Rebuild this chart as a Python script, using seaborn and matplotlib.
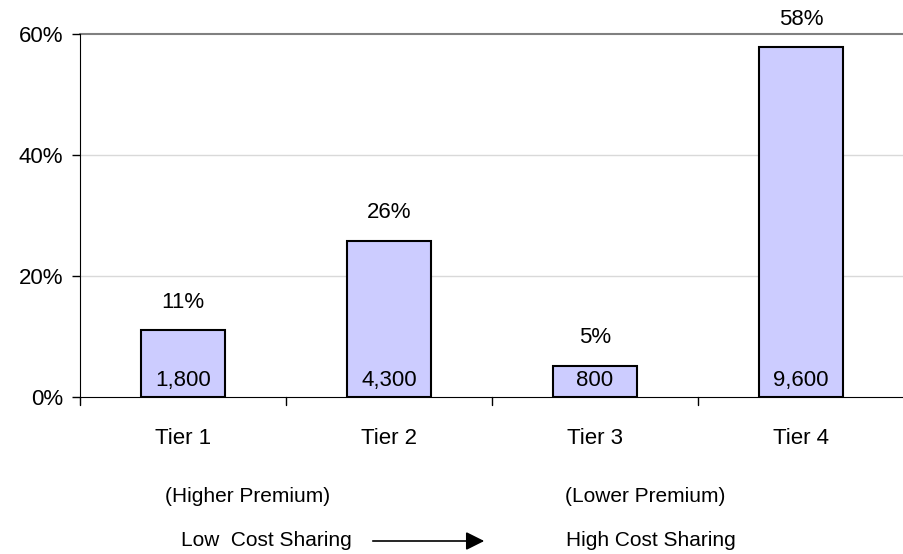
import matplotlib
matplotlib.use("Agg")
import matplotlib.pyplot as plt
import seaborn as sns
import pandas as pd

# data
tiers = ["Tier 1", "Tier 2", "Tier 3", "Tier 4"]
shares = [11.0, 25.8, 5.2, 57.8]
share_labels = ["11%", "26%", "5%", "58%"]
counts = ["1,800", "4,300", "800", "9,600"]

df = pd.DataFrame({"tier": tiers, "share": shares})

sns.set_style("white")
plt.rcParams["font.family"] = ["Liberation Sans", "DejaVu Sans"]
plt.rcParams["text.color"] = "black"
plt.rcParams["xtick.color"] = "black"
plt.rcParams["ytick.color"] = "black"

fig = plt.figure(figsize=(9.04, 5.54), dpi=100)
ax = fig.add_axes([80 / 904, 1 - 397 / 554, 824 / 904, 363 / 554])

sns.barplot(data=df, x="tier", y="share", color="#CCCCFF", width=0.41,
            edgecolor="black", linewidth=1.5, saturation=1, ax=ax)

ax.set_xlim(-0.5, 3.5)
ax.set_ylim(0, 60)
ax.set_yticks([0, 20, 40, 60])
ax.set_yticklabels(["0%", "20%", "40%", "60%"], fontsize=16)
ax.set_xlabel("")
ax.set_ylabel("")
ax.tick_params(axis="x", length=0, labelsize=16, pad=22)
ax.tick_params(axis="y", left=True, length=6, width=1, color="black", pad=6)

# grid lines
for v in [20, 40]:
    ax.axhline(v, color="#d9d9d9", linewidth=1, zorder=0)
ax.axhline(60, color="#808080", linewidth=1.5, zorder=0, clip_on=False)

for side in ["right", "top"]:
    ax.spines[side].set_visible(False)
ax.spines["left"].set_color("black")
ax.spines["bottom"].set_color("black")

# category separator ticks under the axis
for b in [-0.5, 0.5, 1.5, 2.5]:
    ax.plot([b, b], [0, -1.3], color="black", linewidth=1, clip_on=False)

for i, (s, lab, c) in enumerate(zip(shares, share_labels, counts)):
    ax.text(i, s + 2.9, lab, ha="center", va="bottom", fontsize=16)
    ax.text(i, 1.0, c, ha="center", va="bottom", fontsize=16)

fig.text(248 / 904, 1 - 497 / 554, "(Higher Premium)", ha="center", va="center", fontsize=15)
fig.text(645 / 904, 1 - 497 / 554, "(Lower Premium)", ha="center", va="center", fontsize=15)
fig.text(266 / 904, 1 - 540 / 554, "Low  Cost Sharing", ha="center", va="center", fontsize=15)
fig.text(651 / 904, 1 - 540 / 554, "High Cost Sharing", ha="center", va="center", fontsize=15)
fig.add_artist(matplotlib.patches.FancyArrowPatch(
    (370 / 904, 1 - 541 / 554), (487 / 904, 1 - 541 / 554),
    transform=fig.transFigure, arrowstyle="-|>", mutation_scale=28,
    color="black", linewidth=1.2))

fig.savefig("out.png", dpi=100)
